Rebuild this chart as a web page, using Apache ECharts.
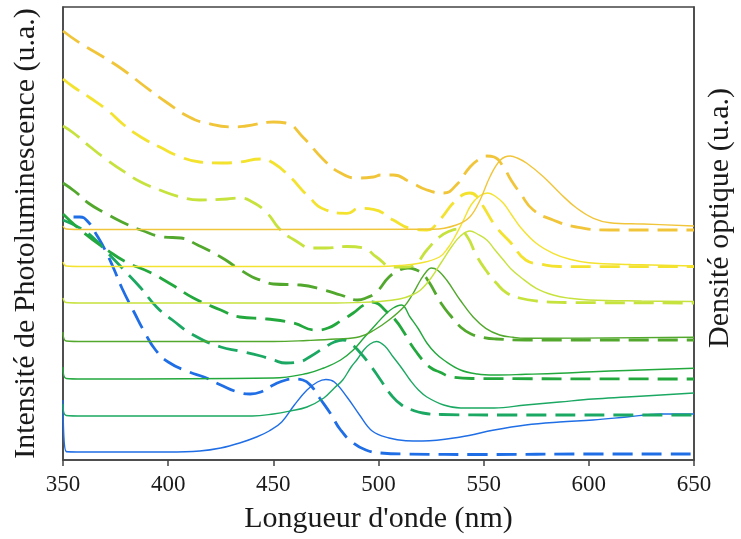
<!DOCTYPE html>
<html>
<head>
<meta charset="utf-8">
<script src="https://cdn.jsdelivr.net/npm/echarts@6/dist/echarts.min.js"></script>
<style>
  html, body { margin: 0; padding: 0; background: #fff; }
  #main { width: 741px; height: 539px; }
</style>
</head>
<body>
<div id="main"></div>
<script>
// longueur d'onde (nm), intensite en unites arbitraires
var blueEm = [[350,60],[351.5,8.5],[360,8],[400,8],[415,9],[425,12],[434,17],[442,23],[448,29],[454,38],[460,55],[466,70],[471,78],[475,80.5],[479,78],[485,63],[491,45],[497,29],[505,22],[513,19.3],[521,19],[539,23],[555,30],[570,35],[586,38],[602,40],[618,43],[634,46],[650,46]];
var blueAbs = [[355,243],[358,243],[362,238],[366,225],[370,210],[374,192],[378,172],[384,147],[389,127],[394,110],[400,98],[410,88],[417,83],[425,75],[433,68],[439,66],[444,68],[450,75],[456,80],[460,81],[464,80],[468,74],[472,62],[477,47],[482,30],[488,17],[494,10],[501,7],[513,6],[550,5.5],[600,6],[650,6]];

var tealEm = [[350,56],[351.5,44.5],[360,44],[440,44],[450,46],[458,49],[466,53],[474,62],[479,72],[483,80],[487,93],[490,101],[493,110],[496,116],[499,118.5],[503,114],[507,103],[511,92],[515,80],[519,70],[523,63],[531,55],[539,52],[555,52],[570,55],[586,58],[602,61],[618,63],[650,67]];
var tealAbs = [[350,240],[358,232],[364,223],[370,210],[379,190],[387,172],[394.5,153],[402,140],[412,125],[425,113],[434,109],[444,104],[450,100],[456,97],[462,98],[468,104],[474,112],[479,118],[483,120],[487,116],[491,108],[496,95],[501,80],[506,65],[511,55],[516,50],[521,47],[530,45.5],[560,45],[650,45]];

var green3Em = [[350,93],[351.5,81.5],[360,81],[450,82],[466,86.5],[474,92],[482,100],[488,110],[493,122],[499,136],[503,145],[507,152],[511,155],[515,143],[519,131],[523,117],[527,107],[531,100],[539,90],[547,86],[555,85],[570,85.7],[586,86.7],[602,88.3],[618,89.5],[650,91.7]];
var green3Abs = [[350,246],[360,227],[371,210],[380,198],[391,188],[402,175],[412,162],[425,150],[434,143],[447,141],[459.5,137],[470,130],[476,132],[482,139],[488,147],[493,155],[497,158],[500,156],[503,150],[508,140],[512,128],[515,117],[518,108],[521,100],[525,92],[529,88],[535,83],[545,81.5],[650,81]];

var green4Em = [[350,128],[351.5,119],[360,118.5],[450,118.5],[466,119.5],[480,121],[491,123.3],[498,130],[505,140],[512,153],[516,165],[520,180],[523,189],[525,192],[528,190],[532.4,180],[538.8,160],[545,143],[551,131.7],[557.6,125],[564,122.7],[570,121.7],[650,122.7]];
var green4Abs = [[350,277],[356,268],[362,257],[370,247],[378,238],[387,230],[398,223],[406,222],[414,215],[425,203],[433,192],[440,183],[444,180],[450,176],[463,175],[474,170],[482,165],[490,160],[494,162],[499,168],[505,183],[510,190],[514,192],[518,190],[521,186],[524,178],[527,167],[530,156],[534,145],[539,133],[544,126],[550,122.5],[556,121],[570,120],[650,120]];

var ygEm = [[350,162],[351.5,157.5],[360,157],[480,157],[490,157.5],[500,158.5],[510,161],[516,165],[520,170],[525,182],[530,198],[535,214],[539,224],[543.5,229],[547,226],[551.5,220],[555,211],[559.4,200],[563,191],[567.3,183.3],[575,171.7],[583,165],[591,161.7],[600,160],[625,159],[650,158.5]];
var ygAbs = [[350,334],[355,327],[363,313],[371,300],[380,287],[387,278],[396,270],[406,263],[415,260],[428,261],[434,262],[440,258],[447,247],[453,231],[460,220],[469,212],[475,212],[485,213.5],[493,212],[499,203],[507,193],[513,193],[517,195],[523,210],[529,223],[534,229],[538,231],[542,224],[546.7,204],[551,190],[556,177],[561,167],[567,162],[575,159],[590,157.5],[650,157]];

var yellowEm = [[350,198],[351.5,194],[360,193.5],[500,193.5],[510,194.5],[520,197],[529,203],[533,212],[536,222],[540,238],[544,255],[548,264],[552,267],[556,263],[559.4,256.7],[563,246],[567.3,233.3],[575,216.7],[583,206.7],[591,200.7],[600,197.3],[620,195.5],[650,194]];
var yellowAbs = [[350,381],[355,373],[363,362],[371,350],[379,335],[387,323],[396,313],[406,303],[415,298],[425,297],[434,298],[444,301],[450,297],[458,283],[466,265],[475,250],[485,246.7],[491,251.7],[497.5,250.7],[507,240],[515,231.7],[523,230],[529,240],[537,260],[543.5,267],[547,263],[550,253],[556,233],[563,217],[570,200],[577,196],[586,193.5],[600,193.3],[650,193.3]];

var orangeEm = [[350,234],[351.5,231],[360,230.5],[526,230.7],[537,235],[543.5,243.3],[548.3,260],[553,283.3],[558,300],[562.6,304],[566,302],[570.5,296.7],[578.4,283.3],[586.3,266.7],[594.3,251.7],[602.2,241.7],[610,237.3],[626,236],[650,234]];
var orangeAbs = [[350,429],[358,417],[367.6,405],[378.7,390],[388,375],[399,358],[410,343],[418,337],[431,333],[437,334],[450,338],[456,337],[464,323],[474,300],[482,287],[490,282],[497.6,283],[501,285],[507,285],[515,278],[523,270],[531,267],[537,275],[543.5,293],[548,301],[551.5,304],[555,303],[559.4,293],[563,280],[567.3,267],[573.6,250],[583,240],[594,233],[610,230],[650,230]];

var emissions = [blueEm, tealEm, green3Em, green4Em, ygEm, yellowEm, orangeEm];
var absorptions = [blueAbs, tealAbs, green3Abs, green4Abs, ygAbs, yellowAbs, orangeAbs];
var colors = ['#1f6ee6', '#1ba862', '#22a83c', '#52a82c', '#c6e23c', '#f3e22e', '#f1c53a'];

var serif = '"Liberation Serif", "Times New Roman", serif';

var series = [];
for (var i = 0; i < emissions.length; i++) {
  series.push({
    type: 'line',
    data: emissions[i],
    showSymbol: false,
    smooth: 0.4,
    lineStyle: { color: colors[i], width: 1.4 },
    silent: true
  });
  series.push({
    type: 'line',
    data: absorptions[i],
    showSymbol: false,
    smooth: 0.5,
    lineStyle: { color: colors[i], width: 2.8, type: [20, 9] },
    silent: true
  });
}

var myChart = echarts.init(document.getElementById('main'));
var option = {
  animation: false,
  grid: {
    left: 63, right: 47, top: 7, bottom: 79,
    outerBoundsMode: 'none',
    show: true, borderColor: '#444', borderWidth: 1.5
  },
  xAxis: {
    type: 'value',
    min: 350, max: 650, interval: 50,
    axisLine: { lineStyle: { color: '#444', width: 1.5 } },
    axisTick: { show: true, length: 6, lineStyle: { color: '#444', width: 1.5 } },
    axisLabel: { fontFamily: serif, fontSize: 23, color: '#1a1a1a', margin: 13 },
    splitLine: { show: false },
    name: "Longueur d'onde (nm)",
    nameLocation: 'middle',
    nameGap: 44,
    nameTextStyle: { fontFamily: serif, fontSize: 30, color: '#1a1a1a' }
  },
  yAxis: [{
    type: 'value',
    min: 0, max: 453,
    axisLine: { show: true, lineStyle: { color: '#444', width: 1.5 } },
    axisTick: { show: false },
    axisLabel: { show: false },
    splitLine: { show: false },
    name: 'Intensité de Photoluminescence (u.a.)',
    nameLocation: 'middle',
    nameGap: 22,
    nameTextStyle: { fontFamily: serif, fontSize: 30, color: '#1a1a1a' }
  }, {
    type: 'value',
    position: 'right',
    min: 0, max: 453,
    axisLine: { show: true, lineStyle: { color: '#444', width: 1.5 } },
    axisTick: { show: false },
    axisLabel: { show: false },
    splitLine: { show: false }
  }],
  graphic: [{
    type: 'text',
    x: 720, y: 218,
    rotation: Math.PI / 2,
    style: {
      text: 'Densité optique (u.a.)',
      font: '30px ' + serif,
      fill: '#1a1a1a',
      align: 'center',
      verticalAlign: 'middle'
    }
  }],
  series: series
};
myChart.setOption(option);
</script>
</body>
</html>
